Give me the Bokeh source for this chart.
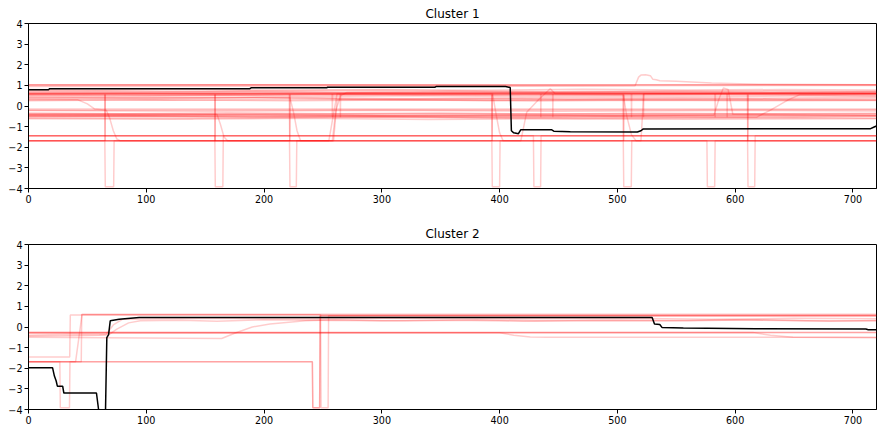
from bokeh.plotting import figure
from bokeh.layouts import column
from bokeh.models import Range1d
from bokeh.embed import file_html
from bokeh.resources import INLINE

# ---------------- data ----------------
x_ticks = [0, 100, 200, 300, 400, 500, 600, 700]
y_ticks = [-4, -3, -2, -1, 0, 1, 2, 3, 4]
titles = ["Cluster 1", "Cluster 2"]

# Cluster 1: black (centroid) line
c1_black = [(0, 0.79), (17, 0.79), (18, 0.84), (188, 0.84), (189, 0.88), (253, 0.88), (254, 0.91),
            (345, 0.91), (346, 0.94), (405, 0.94), (409, 0.9), (410, -1.2), (412, -1.3), (416, -1.34),
            (418, -1.15), (444, -1.15), (446, -1.22), (460, -1.25), (517, -1.26), (520, -1.2),
            (522, -1.11), (715, -1.1), (718, -1.02), (720, -0.97)]

# Cluster 1: member series (red)
c1_r01 = [(0, 1.03), (720, 1.03)]
c1_r02 = [(0, 1.0), (200, 1.02), (400, 0.98), (720, 1.0)]
c1_r03 = [(0, 0.75), (150, 0.72), (300, 0.76), (450, 0.7), (600, 0.74), (720, 0.72)]
c1_r04 = [(0, 0.66), (720, 0.66)]
c1_r05 = [(0, 0.6), (720, 0.6)]
c1_r06 = [(0, 0.55), (100, 0.5), (250, 0.56), (400, 0.52), (550, 0.55), (720, 0.5)]
c1_r07 = [(0, 0.45), (80, 0.4), (200, 0.42), (330, 0.35), (480, 0.4), (620, 0.38), (720, 0.42)]
c1_r08 = [(0, 0.32), (120, 0.28), (260, 0.33), (390, 0.27), (560, 0.3), (720, 0.28)]
c1_r09 = [(0, -0.15), (720, -0.15)]
c1_r10 = [(0, -0.2), (720, -0.18)]
c1_r11 = [(0, -0.38), (720, -0.38)]
c1_r12 = [(0, -0.45), (170, -0.42), (340, -0.48), (520, -0.44), (720, -0.46)]
c1_r13 = [(0, -0.5), (720, -0.5)]
c1_r14 = [(0, -0.58), (140, -0.6), (300, -0.55), (470, -0.62), (650, -0.57), (720, -0.6)]
c1_r15 = [(0, -1.44), (720, -1.44)]
c1_r16 = [(0, 1.03), (720, 1.03)]
c1_r20 = [(0, 0.8), (60, 0.78), (130, 0.82), (210, 0.77), (300, 0.8), (380, 0.76), (470, 0.81),
          (560, 0.77), (640, 0.8), (720, 0.78)]
c1_r21 = [(0, 0.7), (90, 0.68), (180, 0.72), (270, 0.66), (360, 0.7), (450, 0.67), (540, 0.71),
          (630, 0.66), (720, 0.7)]
c1_r22 = [(0, 0.5), (70, 0.47), (160, 0.52), (240, 0.46), (330, 0.5), (420, 0.45), (500, 0.49),
          (590, 0.46), (680, 0.5), (720, 0.48)]
c1_r23 = [(0, 0.38), (100, 0.35), (190, 0.4), (280, 0.34), (370, 0.38), (460, 0.33), (550, 0.37),
          (640, 0.34), (720, 0.36)]
c1_r24 = [(0, 0.26), (110, 0.3), (220, 0.25), (320, 0.29), (430, 0.24), (520, 0.28), (610, 0.25), (720, 0.27)]
c1_r25 = [(0, -0.34), (80, -0.37), (170, -0.33), (260, -0.38), (350, -0.34), (440, -0.39),
          (530, -0.35), (620, -0.38), (720, -0.35)]
c1_r26 = [(0, -0.42), (100, -0.45), (200, -0.41), (300, -0.46), (400, -0.42), (500, -0.47),
          (600, -0.43), (720, -0.45)]
c1_r27 = [(0, -0.53), (90, -0.5), (190, -0.55), (290, -0.51), (390, -0.56), (490, -0.52),
          (590, -0.55), (720, -0.52)]
c1_r28 = [(0, -0.62), (120, -0.64), (230, -0.6), (340, -0.65), (450, -0.61), (560, -0.64), (720, -0.62)]
c1_r29 = [(0, -0.22), (150, -0.25), (300, -0.21), (450, -0.26), (600, -0.22), (720, -0.24)]

# Cluster 1: series on the low levels that drop to the floor
c1_d1 = [(0, -1.69), (64.8, -1.69), (65.2, -3.92), (72.3, -3.92), (72.7, -1.69), (720, -1.69)]
c1_d2 = [(0, -1.44), (158.2, -1.44), (158.6, -3.92), (165.0, -3.92), (165.4, -1.44), (720, -1.44)]
c1_d3 = [(0, -1.69), (221.6, -1.69), (222.0, -3.92), (227.4, -3.92), (227.8, -1.69), (720, -1.69)]
c1_d4 = [(0, -1.69), (393.4, -1.69), (393.8, -3.92), (400.0, -3.92), (400.4, -1.69), (720, -1.69)]
c1_d5 = [(0, -1.44), (428.7, -1.44), (429.1, -3.92), (434.8, -3.92), (435.2, -1.44), (720, -1.44)]
c1_d6 = [(0, -1.69), (505, -1.69), (505.4, -3.92), (511.8, -3.92), (512.2, -1.69), (720, -1.69)]
c1_d7 = [(0, -1.69), (576, -1.69), (576.4, -3.92), (582.6, -3.92), (583, -1.69), (720, -1.69)]
c1_d8 = [(0, -1.44), (610.5, -1.44), (610.9, -3.92), (616.6, -3.92), (617, -1.44), (720, -1.44)]

# Cluster 1: series with gradual changes
c1_c1 = [(0, 0.3), (42, 0.3), (50, 0.1), (56, -0.14), (66, -0.2), (69, -0.6), (72, -1.2), (75, -1.6),
         (78, -1.69), (255, -1.69), (262, 0.6), (720, 0.6)]
c1_c2 = [(0, 0.4), (222, 0.4), (225, -0.3), (228, -1.2), (231, -1.69), (258, -1.69), (261, -0.2),
         (265, 0.5), (270, 0.65), (720, 0.65)]
c1_c3 = [(0, 0.6), (394, 0.6), (397, -0.4), (400, -1.3), (403, -1.69), (418, -1.69), (423, -0.3),
         (433, 0.3), (443, 0.84), (447, 0.6), (720, 0.6)]
c1_c4 = [(0, 0.95), (515, 0.98), (518, 1.4), (520, 1.5), (524, 1.52), (528, 1.47), (530, 1.3),
         (533, 1.27), (536, 1.22), (550, 1.2), (580, 1.12), (620, 1.06), (720, 1.03)]
c1_c5 = [(0, -0.5), (618, -0.55), (630, -0.2), (645, 0.3), (655, 0.55), (720, 0.58)]
c1_c6 = [(0, -0.45), (582, -0.45), (586, 0.3), (590, 0.87), (594, 0.8), (598, -0.4), (720, -0.45)]
c1_c7 = [(0, -0.4), (160, -0.4), (163, -0.9), (166, -1.5), (169, -1.69), (259, -1.69), (262, 0.3), (720, 0.3)]
c1_c8 = [(0, 0.55), (505, 0.55), (508, -0.5), (512, -1.4), (516, -1.69), (520, -1.69), (522.4, 0.6), (720, 0.6)]

# Cluster 1: short jumps from the upper band down to the low levels
c1_spike_x = [65, 158.4, 221.8, 393.6, 505.2, 610.7]
c1_spike2_x = [258, 264.8, 435, 445.2, 512, 522.2, 583, 593.2]
c1_spike_top = 0.62
c1_spike_bottom = -1.69
c1_spike2_bottom = -0.55

# Cluster 2: black (centroid) line
c2_black = [(0, -1.97), (20.4, -1.97), (22, -2.38), (23.5, -2.62), (24.5, -2.87), (29, -2.87),
            (30, -3.2), (57.7, -3.2), (59.5, -4.0), (61, -5), (65, -5), (65.4, -4.0), (66.5, -0.51),
            (68, -0.37), (69.4, 0.3), (77, 0.38), (94, 0.46), (529.5, 0.46), (531.5, 0.14),
            (536, 0.12), (538, -0.03), (556, -0.05), (617, -0.08), (711, -0.1), (713, -0.13), (720, -0.13)]

# Cluster 2: member series (red)
c2_r01 = [(0, -0.27), (720, -0.27)]
c2_r02 = [(0, -0.27), (400, -0.28), (412, -0.4), (426, -0.48), (440, -0.5), (720, -0.5)]
c2_r03 = [(0, -0.3), (615, -0.27), (630, -0.4), (649, -0.5), (720, -0.52)]
c2_r04 = [(0, -1.45), (35, -1.45), (35.5, 0.58), (720, 0.58)]
c2_r05 = [(0, -1.68), (26.6, -1.68), (27, -3.92), (34.8, -3.92), (35.2, -1.68), (40, -1.68), (45.5, 0.62), (720, 0.62)]
c2_r06 = [(0, -1.68), (44.8, -1.68), (45.2, 0.6), (248, 0.6), (248.4, -3.92), (254.4, -3.92), (254.8, 0.55), (720, 0.55)]
c2_r07 = [(0, -1.68), (241, -1.68), (241.4, -3.92), (247.2, -3.92), (247.6, 0.55), (720, 0.55)]
c2_r08 = [(0, -1.68), (241, -1.68), (241.4, -3.92), (247.2, -3.92), (247.6, 0.55), (720, 0.55)]
c2_r09 = [(0, -0.45), (35, -0.42), (60, -0.4), (68, -0.38), (75, -0.1), (85, 0.2), (95, 0.3), (130, 0.33),
          (160, 0.28), (200, 0.35), (260, 0.32), (320, 0.3), (380, 0.35), (430, 0.3), (500, 0.33),
          (560, 0.3), (620, 0.35), (680, 0.28), (720, 0.32)]
c2_r10 = [(0, -0.5), (164, -0.56), (175, -0.3), (190, 0.0), (205, 0.15), (235, 0.3), (260, 0.35),
          (300, 0.3), (360, 0.33), (420, 0.28), (480, 0.32), (540, 0.3), (600, 0.35), (660, 0.3), (720, 0.3)]
c2_r11 = [(0, -0.27), (720, -0.27)]
c2_r12 = [(0, -0.4), (35, -0.35), (66, -0.36), (72, 0.1), (80, 0.38), (150, 0.42), (250, 0.4),
          (330, 0.44), (420, 0.4), (500, 0.43), (580, 0.38), (650, 0.42), (720, 0.4)]

c1_red = [c1_r01, c1_r02, c1_r03, c1_r04, c1_r05, c1_r06, c1_r07, c1_r08, c1_r09, c1_r10,
          c1_r11, c1_r12, c1_r13, c1_r14, c1_r15, c1_r16, c1_r20,
          c1_r21, c1_r22, c1_r23, c1_r24, c1_r25, c1_r26, c1_r27, c1_r28, c1_r29,
          c1_d1, c1_d2, c1_d3, c1_d4, c1_d5, c1_d6, c1_d7, c1_d8,
          c1_c1, c1_c2, c1_c3, c1_c4, c1_c5, c1_c6, c1_c7, c1_c8]
c2_red = [c2_r01, c2_r02, c2_r03, c2_r04, c2_r05, c2_r06, c2_r07, c2_r08, c2_r09, c2_r10, c2_r11, c2_r12]


def spike_series(xs, top, bottom):
    pts = [(0, top)]
    for x in xs:
        pts += [(x - 0.2, top), (x, bottom), (x + 0.2, top)]
    pts.append((720, top))
    return pts


c1_red.append(spike_series(c1_spike_x, c1_spike_top, c1_spike_bottom))
c1_red.append(spike_series(c1_spike_x, c1_spike_top - 0.05, c1_spike_bottom))
c1_red.append(spike_series(c1_spike2_x, c1_spike_top, c1_spike2_bottom))

# ---------------- figure ----------------
FONT = "DejaVu Sans"
minus = {v: str(v).replace("-", "\u2212") for v in y_ticks}


def make_fig(title, height, top, bottom, standoff, red, black):
    p = figure(width=879, height=height, output_backend="svg", toolbar_location=None,
               x_range=Range1d(0, 720), y_range=Range1d(-4, 4), title=title,
               min_border_left=28, min_border_right=3, min_border_top=top, min_border_bottom=bottom)
    p.title.align = "center"
    p.title.text_font = FONT
    p.title.text_font_size = "12px"
    p.title.text_font_style = "normal"
    p.title.text_color = "black"
    p.title.standoff = standoff
    p.grid.visible = False
    p.outline_line_color = "black"
    p.outline_line_alpha = 1.0
    p.outline_line_width = 1
    for ax in (p.xaxis, p.yaxis):
        ax.axis_line_color = "black"
        ax.major_tick_out = 4
        ax.major_tick_in = 0
        ax.minor_tick_out = 0
        ax.minor_tick_in = 0
        ax.major_label_text_font = FONT
        ax.major_label_text_font_size = "9.6px"
        ax.major_label_text_color = "black"
        ax.major_label_standoff = 2
    p.xaxis.ticker = x_ticks
    p.yaxis.ticker = y_ticks
    p.yaxis.major_label_overrides = minus
    for s in red:
        p.line([pt[0] for pt in s], [pt[1] for pt in s], line_color="red", line_alpha=0.2, line_width=1.5)
    p.line([pt[0] for pt in black], [pt[1] for pt in black], line_color="black", line_width=1.5)
    return p


p1 = make_fig(titles[0], 210, 23, 22, 6, c1_red, c1_black)
p2 = make_fig(titles[1], 219, 34, 20, 8, c2_red, c2_black)
layout = column(p1, p2, spacing=0)
open("out.html", "w").write(file_html(layout, INLINE))
